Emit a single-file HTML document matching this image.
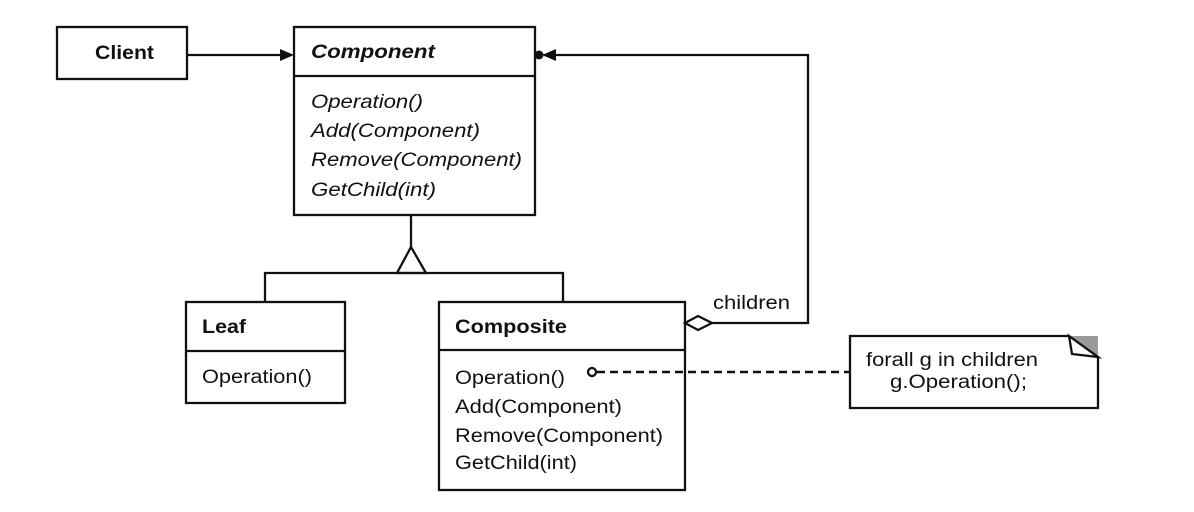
<!DOCTYPE html>
<html><head><style>html,body{margin:0;padding:0;background:#fff}svg{display:block}</style></head><body>
<svg width="1194" height="512" viewBox="0 0 1194 512" xmlns="http://www.w3.org/2000/svg" font-family="Liberation Sans, Arial, sans-serif" fill="#111">
<g fill="none" stroke="#111" stroke-width="2.3">
<rect x="57" y="27" width="130" height="52"/>
<rect x="294" y="27" width="241" height="188"/>
<line x1="294" y1="76" x2="535" y2="76"/>
<line x1="187" y1="55" x2="280" y2="55"/>
<line x1="411" y1="215" x2="411" y2="247"/>
<polygon points="411,247 397,273 426,273"/>
<polyline points="265,302 265,273 563,273 563,302"/>
<rect x="186" y="302" width="159" height="101"/>
<line x1="186" y1="351" x2="345" y2="351"/>
<rect x="439" y="302" width="246" height="188"/>
<line x1="439" y1="350" x2="685" y2="350"/>
<polyline points="712,323 808,323 808,55 556,55"/>
<polygon points="685,323 698,316 712,323 698,330" fill="#fff"/>
<circle cx="592" cy="372" r="4"/>
<line x1="597" y1="372" x2="850" y2="372" stroke-dasharray="8,5" stroke-width="2.5"/>
<polygon points="850,336 1069,336 1098,357 1098,408 850,408"/>
</g>
<polygon points="280,49 294,55 280,61" fill="#111"/>
<polygon points="556,49 542,55 556,61" fill="#111"/>
<circle cx="539" cy="55" r="4.5" fill="#111"/>
<polygon points="1069,336 1098,336 1098,357" fill="#999"/>
<polygon points="1069,336 1098,357 1072,354" fill="#fff" stroke="#111" stroke-width="2.3"/>
<g font-size="19">
<text x="95" y="59" font-weight="bold" textLength="59" lengthAdjust="spacingAndGlyphs">Client</text>
<text x="311" y="58" font-weight="bold" font-style="italic" textLength="124" lengthAdjust="spacingAndGlyphs">Component</text>
<text x="311" y="108" font-style="italic" textLength="112" lengthAdjust="spacingAndGlyphs">Operation()</text>
<text x="311" y="137" font-style="italic" textLength="169" lengthAdjust="spacingAndGlyphs">Add(Component)</text>
<text x="311" y="166" font-style="italic" textLength="211" lengthAdjust="spacingAndGlyphs">Remove(Component)</text>
<text x="311" y="196" font-style="italic" textLength="125" lengthAdjust="spacingAndGlyphs">GetChild(int)</text>
<text x="202" y="333" font-weight="bold" textLength="44" lengthAdjust="spacingAndGlyphs">Leaf</text>
<text x="202" y="383" textLength="110" lengthAdjust="spacingAndGlyphs">Operation()</text>
<text x="455" y="333" font-weight="bold" textLength="112" lengthAdjust="spacingAndGlyphs">Composite</text>
<text x="455" y="384" textLength="110" lengthAdjust="spacingAndGlyphs">Operation()</text>
<text x="455" y="413" textLength="167" lengthAdjust="spacingAndGlyphs">Add(Component)</text>
<text x="455" y="442" textLength="208" lengthAdjust="spacingAndGlyphs">Remove(Component)</text>
<text x="455" y="469" textLength="122" lengthAdjust="spacingAndGlyphs">GetChild(int)</text>
<text x="713" y="309" textLength="77" lengthAdjust="spacingAndGlyphs">children</text>
<text x="866" y="366" textLength="172" lengthAdjust="spacingAndGlyphs">forall g in children</text>
<text x="890" y="388" textLength="137" lengthAdjust="spacingAndGlyphs">g.Operation();</text>
</g>
</svg>
</body></html>
